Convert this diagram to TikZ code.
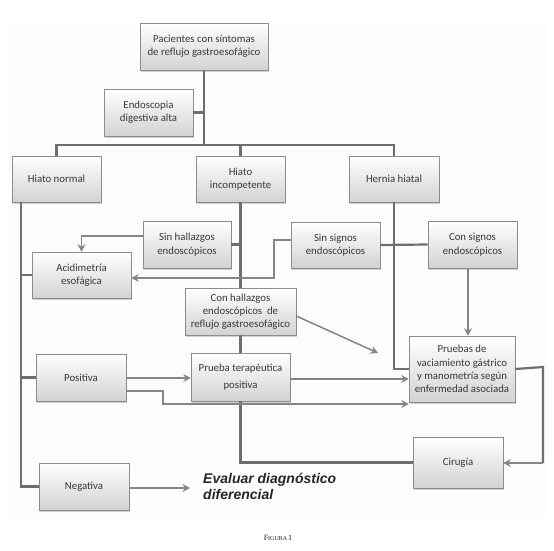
\documentclass[tikz,border=0pt]{standalone}
\usepackage{fontspec}
\setmainfont{Carlito}
\newfontfamily\evalfont{Liberation Sans}
\newfontfamily\capfont{Liberation Serif}
\usetikzlibrary{shadows,arrows.meta}
\definecolor{lnc}{HTML}{6E6E6E}
\definecolor{arc}{HTML}{858585}
\definecolor{bdc}{HTML}{8C8C8C}
\tikzset{
  box/.style={draw=bdc, line width=0.6pt, top color=white, bottom color=gray!35,
    drop shadow={shadow xshift=1.2pt, shadow yshift=-1.5pt, opacity=0.35},
    align=center, font=\fontsize{10.8}{13.3}\selectfont, inner sep=1pt, text=black!78},
  conn/.style={draw=lnc, line width=2.2pt},
  arr/.style={draw=arc, line width=1.5pt, -{Stealth[length=7.5pt,width=8pt,inset=2.5pt]}},
}
\begin{document}
\begin{tikzpicture}[x=1pt,y=-1pt]
\useasboundingbox (0,0) rectangle (554,550);
\fill[black!1.2] (7,23) rectangle (546,518);
% nodes
\node[box, minimum width=128pt, minimum height=47pt] (pac) at (204,46.5) {Pacientes con síntomas\\de reflujo gastroesofágico};
\node[box, minimum width=89pt, minimum height=47pt] (endo) at (148.5,112.5) {Endoscopia\\digestiva alta};
\node[box, minimum width=89pt, minimum height=46pt] (hn) at (56.5,179) {Hiato normal};
\node[box, minimum width=89pt, minimum height=46pt] (hi) at (240.5,179) {Hiato\\incompetente};
\node[box, minimum width=90pt, minimum height=46pt] (hh) at (394,179) {Hernia hiatal};
\node[box, minimum width=88pt, minimum height=47pt] (sinhal) at (187,244.5) {Sin hallazgos\\endoscópicos};
\node[box, minimum width=89pt, minimum height=46pt] (sinsig) at (335.5,245) {Sin signos\\endoscópicos};
\node[box, minimum width=89pt, minimum height=47pt] (consig) at (472.5,244.5) {Con signos\\endoscópicos};
\node[box, minimum width=99pt, minimum height=46pt] (acid) at (81.5,275) {Acidimetría\\esofágica};
\node[box, minimum width=111pt, minimum height=47pt] (conhal) at (240.5,311.5) {Con hallazgos\\endoscópicos\ \ de\\reflujo gastroesofágico};
\node[box, minimum width=99pt, minimum height=48pt] (prueba) at (240.5,377) {Prueba terapéutica\\[4pt]positiva};
\node[box, minimum width=106pt, minimum height=66pt] (pruebas) at (462,369) {Pruebas de\\vaciamiento gástrico\\y manometría según\\enfermedad asociada};
\node[box, minimum width=90pt, minimum height=47pt] (positiva) at (81,377.5) {Positiva};
\node[box, minimum width=90pt, minimum height=51pt] (cirugia) at (458,462.5) {Cirugía};
\node[box, minimum width=90pt, minimum height=47pt] (negativa) at (84,486.5) {Negativa};
\node[anchor=north west, align=left, inner sep=0pt, font=\evalfont\bfseries\itshape\fontsize{14}{16.5}\selectfont, text=black!85] (eval) at (203,473) {Evaluar diagnóstico\\diferencial};
\node[inner sep=0pt, text=black!90] (fig) at (278,538) {\capfont\fontsize{8}{9}\selectfont F\fontsize{6}{9}\selectfont IGURA\,\fontsize{8}{9}\selectfont 1};
% coordinates
\coordinate (bus) at (204,145);
\coordinate (hnl) at (21,202);
\coordinate (diag) at (378,353);
\coordinate (evalin) at (190,488);
% trunk
\draw[conn] (pac.south) -- (bus);
\draw[conn] (endo.east) -- (endo.east -| bus);
\draw[conn] (hn.north) |- (bus) -| (hh.north);
\draw[conn] (hi.north) -- (hi.north |- bus);
% hiato normal branch
\draw[conn] (hnl) |- (negativa.west);
\draw[conn] (hnl |- acid.west) -- (acid.west);
\draw[conn] (hnl |- positiva.west) -- (positiva.west);
% hiato incompetente branch
\draw[conn] (hi.south) -- (conhal.north);
\draw[conn] (sinhal.east) -- (sinhal.east -| hi.south);
\draw[conn] (conhal.south) -- (prueba.north);
\draw[conn] (prueba.south) |- (cirugia.west);
% hernia hiatal branch
\draw[conn] (hh.south) |- (pruebas.west);
\draw[conn] (sinsig.east) -- (consig.west);
% arrows
\draw[arr] (sinhal.west |- 0,236) -| (acid.north);
\draw[arr] (sinsig.west |- 0,240) -- (274,240) -- (274,278) -- (acid.east |- 0,278);
\draw[arr] (consig.south -| 468,0) -- (pruebas.north -| 468,0);
\draw[conn] (pruebas.east) -- (543,367) -- (543,463);
\draw[arr] (543,463) -- (cirugia.east |- 0,463);
\draw[arr] (conhal.east |- 0,316) -- (diag);
\draw[arr] (prueba.east |- 0,379) -- (pruebas.west |- 0,379);
\draw[arr] (positiva.east |- 0,378) -- (prueba.west |- 0,378);
\draw[arr] (positiva.east |- 0,391) -- (163,391) -- (163,404) -- (pruebas.west |- 0,404);
\draw[arr] (negativa.east |- 0,488) -- (evalin);
\end{tikzpicture}
\end{document}
